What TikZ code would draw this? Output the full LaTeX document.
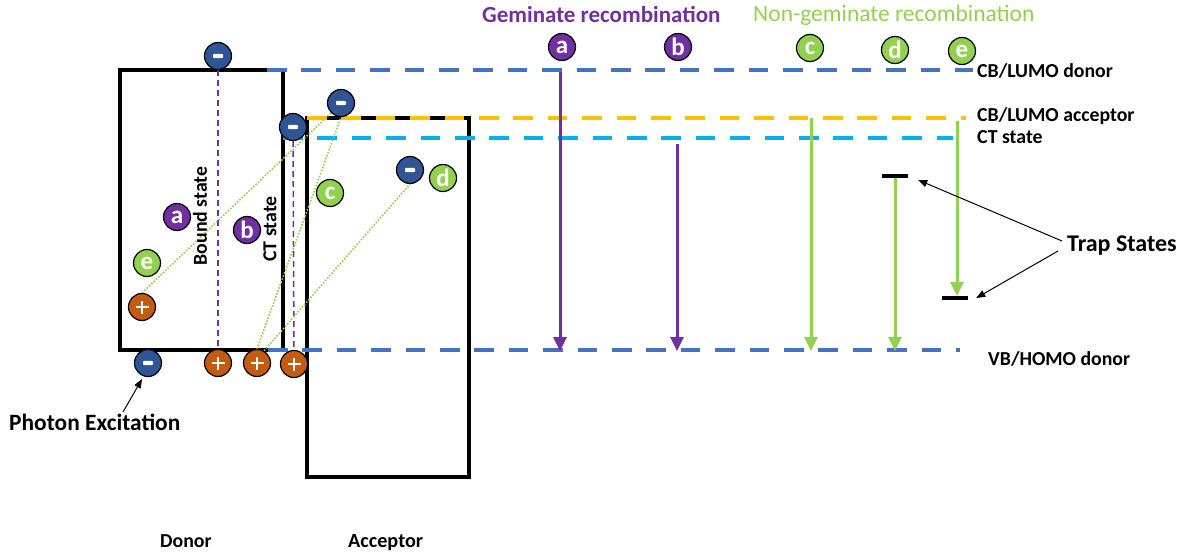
\documentclass[tikz,border=0pt]{standalone}
\usepackage{fontspec}
\setmainfont{Carlito}
\usetikzlibrary{arrows.meta}
\definecolor{lumoblue}{HTML}{4472C4}
\definecolor{accorange}{HTML}{FFC000}
\definecolor{ctcyan}{HTML}{00B0F0}
\definecolor{ngreen}{HTML}{92D050}
\definecolor{gpurple}{HTML}{7030A0}
\definecolor{edark}{HTML}{2F5597}
\definecolor{holeor}{HTML}{C55A11}
\pgfdeclarelayer{back}
\pgfdeclarelayer{mid}
\pgfsetlayers{back,mid,main}
\newcommand{\fs}[1]{\fontsize{#1}{#1}\selectfont}
\begin{document}
\begin{tikzpicture}[x=1pt,y=-1pt,
  level/.style={line width=4pt, dash pattern=on 19.5pt off 14.9pt},
  boxline/.style={line width=4pt, line join=miter},
  carrier/.style={circle, draw=black, line width=1.2pt, minimum size=27pt, inner sep=0pt},
  electron/.style={carrier, fill=edark,
    path picture={\fill[white, rounded corners=1pt]
      ([shift={(-5pt,-2.2pt)}]path picture bounding box.center) rectangle
      ([shift={(5pt,2.2pt)}]path picture bounding box.center);}},
  hole/.style={carrier, fill=holeor,
    path picture={\draw[white, line width=2.8pt]
      ([xshift=-6.5pt]path picture bounding box.center) -- ([xshift=6.5pt]path picture bounding box.center)
      ([yshift=-6.5pt]path picture bounding box.center) -- ([yshift=6.5pt]path picture bounding box.center);}},
  tag/.style={carrier, text=white, font=\bfseries\fs{25}},
  gtag/.style={tag, fill=gpurple},
  ntag/.style={tag, fill=ngreen},
  txt/.style={inner sep=0pt, anchor=base west, font=\bfseries\fs{19.8}},
  pairline/.style={ngreen, line width=1.6pt, dash pattern=on 1.6pt off 1.6pt},
  boundline/.style={gpurple, line width=1.5pt, dash pattern=on 6pt off 4pt},
  recarrow/.style={line width=3pt, -{Triangle[length=14pt,width=13pt]}},
  pointer/.style={black, line width=1pt, -{Triangle[length=9pt,width=7pt]}},
  trapbar/.style={fill=black, minimum width=26pt, minimum height=4pt, inner sep=0pt}
]
\useasboundingbox (0,0) rectangle (1196,554);

% donor and acceptor blocks
\begin{pgfonlayer}{back}
  \draw[boxline] (120,70) rectangle (283,350);
  \draw[boxline] (307,118) rectangle (469,477);
\end{pgfonlayer}

% energy levels
\coordinate (lumoD-w) at (267,70);  \coordinate (lumoD-e) at (973,70);
\coordinate (lumoA-w) at (307,118); \coordinate (lumoA-e) at (966,118);
\coordinate (ct-w) at (283,138);    \coordinate (ct-e) at (953,138);
\coordinate (homo-w) at (268,350);  \coordinate (homo-e) at (960,350);
\begin{pgfonlayer}{mid}
  \draw[level, lumoblue] (lumoD-w) -- (lumoD-e);
  \draw[level, accorange] (lumoA-w) -- (lumoA-e);
  \draw[level, ctcyan] (ct-w) -- (ct-e);
  \draw[level, lumoblue] (homo-w) -- (homo-e);
\end{pgfonlayer}

% level labels
\node[txt] (lblLumoD) at (977,77) {CB/LUMO donor};
\node[txt] (lblLumoA) at (977,121) {CB/LUMO acceptor};
\node[txt] (lblCT) at (977,143) {CT state};
\node[txt] (lblHomo) at (988,365) {VB/HOMO donor};

% carriers at the interface
\node[electron] (e1) at (218,56) {};
\node[electron] (e2) at (293,127) {};
\node[electron] (e3) at (341,103) {};
\node[electron] (e4) at (410,170) {};
\node[electron] (e5) at (148,363) {};
\node[hole] (h1) at (142,307) {};
\node[hole] (h2) at (218,363) {};
\node[hole] (h3) at (257,363) {};
\node[hole] (h4) at (294,364) {};

\node[gtag] (ta) at (177,217) {a};
\node[gtag] (tb) at (247,230) {b};
\node[ntag] (tc) at (330,193) {c};
\node[ntag] (td) at (443,178) {d};
\node[ntag] (te) at (147,263) {e};

\begin{pgfonlayer}{mid}
  \draw[boundline] (e1) -- (h2);
  \draw[boundline] (e2) -- (h4);
  \draw[pairline] (h1.north) -- (e3.south west);
  \draw[pairline] (h3.north) -- (e3.south);
  \draw[pairline] (h3.60) -- (e4.south);
\end{pgfonlayer}

\node[font=\bfseries\fs{19.8}, rotate=90] (bound) at (200,216) {Bound state};
\node[font=\bfseries\fs{19.8}, rotate=90] (ctv) at (270,229) {CT state};

% recombination pathways
\node[txt, font=\bfseries\fs{23}, text=gpurple] (gemTitle) at (482,23) {Geminate recombination};
\node[txt, font=\fs{23.5}, text=ngreen] (ngTitle) at (753,21) {Non-geminate recombination};

\node[gtag] (ra) at (562,47) {a};
\node[gtag] (rb) at (678,47) {b};
\node[ntag] (rc) at (810,48) {c};
\node[ntag] (rd) at (895,50) {d};
\node[ntag] (re) at (962,51) {e};

\node[trapbar] (trap1) at (895,176) {};
\node[trapbar] (trap2) at (955,298) {};

\coordinate (pa-top) at (560,72);  \coordinate (pa-bot) at (560,351);
\coordinate (pb-top) at (677,144); \coordinate (pb-bot) at (677,351);
\coordinate (pc-top) at (811,118); \coordinate (pc-bot) at (811,351);
\coordinate (pd-bot) at (895,351);
\coordinate (pe-top) at (957,121); \coordinate (pe-bot) at (957,296);
\draw[recarrow, gpurple] (pa-top) -- (pa-bot);
\draw[recarrow, gpurple] (pb-top) -- (pb-bot);
\draw[recarrow, ngreen] (pc-top) -- (pc-bot);
\draw[recarrow, ngreen] (trap1.south) -- (pd-bot);
\draw[recarrow, ngreen] (pe-top) -- (pe-bot);

% trap states
\node[txt, font=\bfseries\fs{24}] (trapLbl) at (1067,251) {Trap States};
\coordinate (tp1) at (1062,241);
\coordinate (tp2) at (1058,251);
\draw[pointer] (tp1) -- ([shift={(10pt,-4pt)}]trap1.east);
\draw[pointer] (tp2) -- ([shift={(8pt,0pt)}]trap2.east);

% photon excitation
\node[txt, font=\bfseries\fs{23.4}] (photon) at (9,430) {Photon Excitation};
\coordinate (ph-tail) at (123,412);
\draw[pointer] (ph-tail) -- ([shift={(-6pt,-2pt)}]e5.south);

% material names
\node[txt] (donor) at (160,547) {Donor};
\node[txt, font=\bfseries\fs{20.2}] (acceptor) at (348,547) {Acceptor};
\end{tikzpicture}
\end{document}
